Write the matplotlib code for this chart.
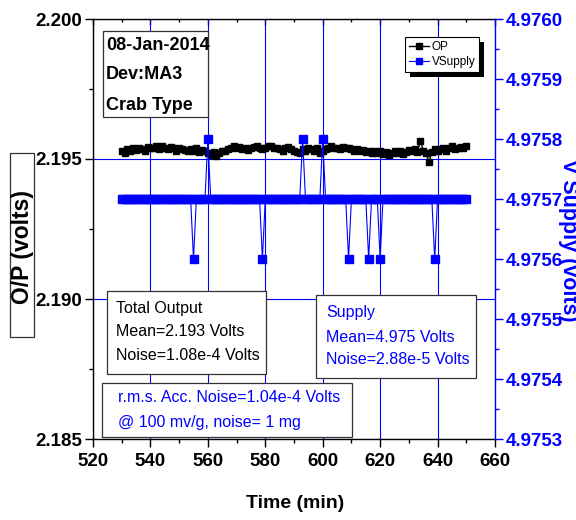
import matplotlib

matplotlib.use("Agg")

import matplotlib.pyplot as plt
import numpy as np
from matplotlib.patches import Rectangle
from matplotlib.ticker import FormatStrFormatter, MultipleLocator

W, H = 576, 520

# sampling: one reading per minute
time_min = np.arange(530, 651)

# O/P output (volts)
op_volts = [
    2.19530, 2.19522, 2.19535, 2.19528, 2.19538, 2.19532, 2.19540, 2.19535, 2.19530, 2.19542,
    2.19538, 2.19540, 2.19545, 2.19535, 2.19548, 2.19540, 2.19535, 2.19542, 2.19538, 2.19530,
    2.19540, 2.19536, 2.19532, 2.19528, 2.19535, 2.19530, 2.19538, 2.19525, 2.19532, 2.19528,
    2.19520, 2.19515, 2.19525, 2.19510, 2.19522, 2.19530, 2.19528, 2.19535, 2.19540, 2.19545,
    2.19538, 2.19542, 2.19535, 2.19540, 2.19532, 2.19538, 2.19542, 2.19545, 2.19540, 2.19536,
    2.19540, 2.19545, 2.19548, 2.19540, 2.19538, 2.19535, 2.19530, 2.19538, 2.19542, 2.19535,
    2.19530, 2.19525, 2.19520, 2.19535, 2.19528, 2.19540, 2.19535, 2.19530, 2.19538, 2.19522,
    2.19530, 2.19535, 2.19540, 2.19545, 2.19538, 2.19540, 2.19536, 2.19542, 2.19538, 2.19540,
    2.19535, 2.19530, 2.19535, 2.19528, 2.19532, 2.19525, 2.19530, 2.19522, 2.19528, 2.19520,
    2.19530, 2.19518, 2.19525, 2.19515, 2.19520, 2.19528, 2.19522, 2.19530, 2.19518, 2.19525,
    2.19532, 2.19528, 2.19535, 2.19525, 2.19565, 2.19530, 2.19520, 2.19490, 2.19525, 2.19535,
    2.19530, 2.19535, 2.19540, 2.19530, 2.19538, 2.19545, 2.19535, 2.19540, 2.19542, 2.19538,
    2.19545,
]

# supply voltage (volts), blue trace
v_supply = [
    4.9757, 4.9757, 4.9757, 4.9757, 4.9757, 4.9757, 4.9757, 4.9757, 4.9757, 4.9757,
    4.9757, 4.9757, 4.9757, 4.9757, 4.9757, 4.9757, 4.9757, 4.9757, 4.9757, 4.9757,
    4.9757, 4.9757, 4.9757, 4.9757, 4.9757, 4.9756, 4.9757, 4.9757, 4.9757, 4.9757,
    4.9758, 4.9757, 4.9757, 4.9757, 4.9757, 4.9757, 4.9757, 4.9757, 4.9757, 4.9757,
    4.9757, 4.9757, 4.9757, 4.9757, 4.9757, 4.9757, 4.9757, 4.9757, 4.9757, 4.9756,
    4.9757, 4.9757, 4.9757, 4.9757, 4.9757, 4.9757, 4.9757, 4.9757, 4.9757, 4.9757,
    4.9757, 4.9757, 4.9757, 4.9758, 4.9757, 4.9757, 4.9757, 4.9757, 4.9757, 4.9757,
    4.9758, 4.9757, 4.9757, 4.9757, 4.9757, 4.9757, 4.9757, 4.9757, 4.9757, 4.9756,
    4.9757, 4.9757, 4.9757, 4.9757, 4.9757, 4.9757, 4.9756, 4.9757, 4.9757, 4.9757,
    4.9756, 4.9757, 4.9757, 4.9757, 4.9757, 4.9757, 4.9757, 4.9757, 4.9757, 4.9757,
    4.9757, 4.9757, 4.9757, 4.9757, 4.9757, 4.9757, 4.9757, 4.9757, 4.9757, 4.9756,
    4.9757, 4.9757, 4.9757, 4.9757, 4.9757, 4.9757, 4.9757, 4.9757, 4.9757, 4.9757,
    4.9757,
]

info_lines = ["08-Jan-2014", "Dev:MA3", "Crab Type"]
op_lines = ["Total Output", "Mean=2.193 Volts", "Noise=1.08e-4 Volts"]
sup_lines = ["Supply", "Mean=4.975 Volts", "Noise=2.88e-5 Volts"]
acc_lines = ["r.m.s. Acc. Noise=1.04e-4 Volts", "@ 100 mv/g, noise= 1 mg"]

BLUE = "#0000ff"
SANS = ["Liberation Sans", "DejaVu Sans"]

plt.rcParams["font.family"] = SANS


def fx(x):
    return x / W


def fy(y):
    return 1 - y / H


def px_box(fig, x0, y0, x1, y1, lw=0.9, face="white", edge="#333333", z=2):
    fig.add_artist(Rectangle((fx(x0), fy(y1)), fx(x1) - fx(x0), fy(y0) - fy(y1),
                             transform=fig.transFigure, facecolor=face,
                             edgecolor=edge, lw=lw, zorder=z))


def px_lines(fig, x, ys, lines, color, size, weight="normal"):
    for y, s in zip(ys, lines):
        fig.text(fx(x), fy(y), s, color=color, fontsize=size, fontweight=weight,
                 ha="left", va="center", zorder=3)


fig = plt.figure(figsize=(W / 100, H / 100), dpi=100)
ax = fig.add_axes([fx(93), fy(439), fx(495) - fx(93), fy(19) - fy(439)])
ax2 = ax.twinx()

ax.grid(True, which="major", color=BLUE, lw=0.8)
ax.set_axisbelow(True)

op_line, = ax.plot(time_min, op_volts, "-", color="black", lw=1.0,
                   marker="s", ms=5, mec="black", mfc="black", label="OP", zorder=3)
vs_line, = ax2.plot(time_min, v_supply, "-", color=BLUE, lw=0.8,
                    marker="s", ms=5.4, mec=BLUE, mfc=BLUE, label="VSupply", zorder=3)

ax.set_xlim(520, 660)
ax.set_ylim(2.185, 2.200)
ax2.set_ylim(4.9753, 4.9760)

ax.xaxis.set_major_locator(MultipleLocator(20))
ax.xaxis.set_minor_locator(MultipleLocator(10))
ax.yaxis.set_major_locator(MultipleLocator(0.005))
ax.yaxis.set_minor_locator(MultipleLocator(0.0025))
ax.yaxis.set_major_formatter(FormatStrFormatter("%.3f"))
ax2.yaxis.set_major_locator(MultipleLocator(0.0001))
ax2.yaxis.set_minor_locator(MultipleLocator(0.00005))
ax2.yaxis.set_major_formatter(FormatStrFormatter("%.4f"))

tick_font = dict(fontsize=13.5, fontweight="bold")
ax.tick_params(axis="both", which="major", direction="out", length=6, width=1,
               top=False, right=False)
ax.tick_params(axis="both", which="minor", direction="out", length=3, width=1,
               top=False, right=False)
ax.tick_params(axis="x", pad=4)
ax.tick_params(axis="y", pad=1.5)
for lab in ax.get_xticklabels() + ax.get_yticklabels():
    lab.set(**tick_font)

ax2.tick_params(axis="y", which="major", direction="out", length=6, width=1,
                color=BLUE, labelcolor=BLUE, pad=1.5)
ax2.tick_params(axis="y", which="minor", direction="out", length=3, width=1, color=BLUE)
for lab in ax2.get_yticklabels():
    lab.set(**tick_font)

for side in ("left", "bottom", "top"):
    ax.spines[side].set_linewidth(1.0)
ax.spines["right"].set_visible(False)
for side in ("left", "bottom", "top"):
    ax2.spines[side].set_visible(False)
ax2.spines["right"].set_color(BLUE)
ax2.spines["right"].set_linewidth(1.0)

top = ax.secondary_xaxis("top")
top.xaxis.set_major_locator(MultipleLocator(20))
top.xaxis.set_minor_locator(MultipleLocator(10))
top.tick_params(which="major", direction="in", length=4, width=1, labeltop=False)
top.tick_params(which="minor", direction="in", length=2.5, width=1)
top.spines["top"].set_visible(False)

# legend (figure level) with a solid drop shadow behind it
leg = fig.legend([op_line, vs_line], ["OP", "VSupply"], loc="upper left",
                 bbox_to_anchor=(fx(405), fy(37)), bbox_transform=fig.transFigure,
                 fancybox=False, frameon=True, edgecolor="black", framealpha=1,
                 prop=dict(size=8.5), handlelength=1.7,
                 handletextpad=0.2, borderpad=0.35, labelspacing=0.25,
                 borderaxespad=0, markerscale=0.9)
leg.get_frame().set_linewidth(0.8)
leg.set_zorder(6)
fig.canvas.draw()
bb = leg.get_window_extent()
px_box(fig, bb.x0 + 5, H - bb.y1 + 5, bb.x1 + 5, H - bb.y0 + 5,
       lw=0, face="black", edge="none", z=5)

# annotation boxes
px_box(fig, 103, 31, 208, 117)
px_lines(fig, 106, [45, 75, 105], info_lines, "black", 13, "bold")

px_box(fig, 107, 291, 266, 374)
px_lines(fig, 116, [308, 332, 356], op_lines, "black", 11.5)

px_box(fig, 316, 295, 476, 378)
px_lines(fig, 326, [312, 337, 360], sup_lines, BLUE, 11.5)

px_box(fig, 102, 383, 352, 437)
px_lines(fig, 118, [397, 422], acc_lines, BLUE, 11.5)

# axis titles
px_box(fig, 10, 153, 34, 337)
fig.text(fx(22.5), fy(247), "O/P (volts)", rotation=90, ha="center", va="center",
         fontsize=16.5, fontweight="bold", zorder=3)
fig.text(fx(569), fy(240), "V Supply (volts)", rotation=-90, ha="center",
         va="center", fontsize=15.5, fontweight="bold", color=BLUE)
fig.text(fx(295), fy(503), "Time (min)", ha="center", va="center",
         fontsize=14, fontweight="bold")

fig.savefig("out.png", dpi=100, facecolor="white")
